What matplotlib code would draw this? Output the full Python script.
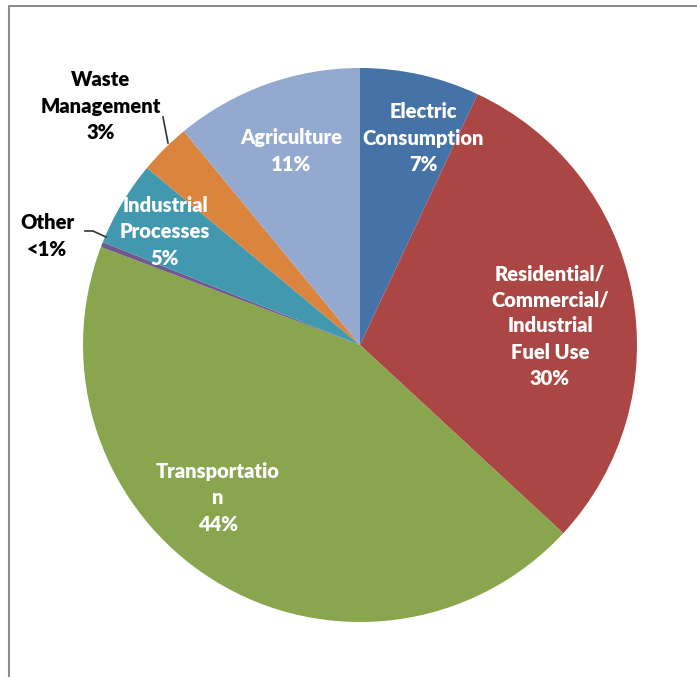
import matplotlib.pyplot as plt
from matplotlib.patches import Rectangle

# greenhouse gas emissions by sector
labels = ['Electric\nConsumption', 'Residential/\nCommercial/\nIndustrial\nFuel Use',
          'Transportatio\nn', 'Other', 'Industrial\nProcesses', 'Waste\nManagement', 'Agriculture']
values = [7, 30, 44, 0.3, 5, 3, 11]
pct_text = ['7%', '30%', '44%', '<1%', '5%', '3%', '11%']
colors = ['#4572A7', '#AA4643', '#89A54E', '#71588F', '#4198AF', '#DB843D', '#93A9CF']

W, H = 697, 677
fig = plt.figure(figsize=(W / 100, H / 100), dpi=100)
ax = fig.add_axes([0, 0, 1, 1])

# chart frame (cut off on right and bottom)
ax.add_patch(Rectangle((9, -20), 800, H - 6 + 20, fill=False, ec='#8c8c8c', lw=1.5))

ax.pie(values, colors=colors, startangle=90, counterclock=False,
       center=(360, H - 345), radius=277, frame=True,
       wedgeprops=dict(linewidth=0))
ax.set_xlim(0, W)
ax.set_ylim(0, H)
ax.set_aspect('equal')
ax.axis('off')

font = dict(family=['Lato', 'DejaVu Sans'], fontsize=14.5, fontweight='heavy',
            ha='center', va='center', linespacing=1.45)

# label positions in pixels (x, y from top)
pos = [(423, 138), (550, 326), (218, 498), (47, 236), (165, 232), (101, 106), (291, 151)]
inside = [True, True, True, False, True, False, True]
for lab, p, (x, y), ins in zip(labels, pct_text, pos, inside):
    ax.text(x, H - y, lab + '\n' + p, color='white' if ins else 'black', **font)

# leader lines for the outside labels
ax.plot([163, 168], [H - 117, H - 143], color='#333333', lw=1.2)
ax.plot([85, 93, 106], [H - 231, H - 231, H - 237], color='#333333', lw=1.2)

fig.savefig('out.png', dpi=100)
